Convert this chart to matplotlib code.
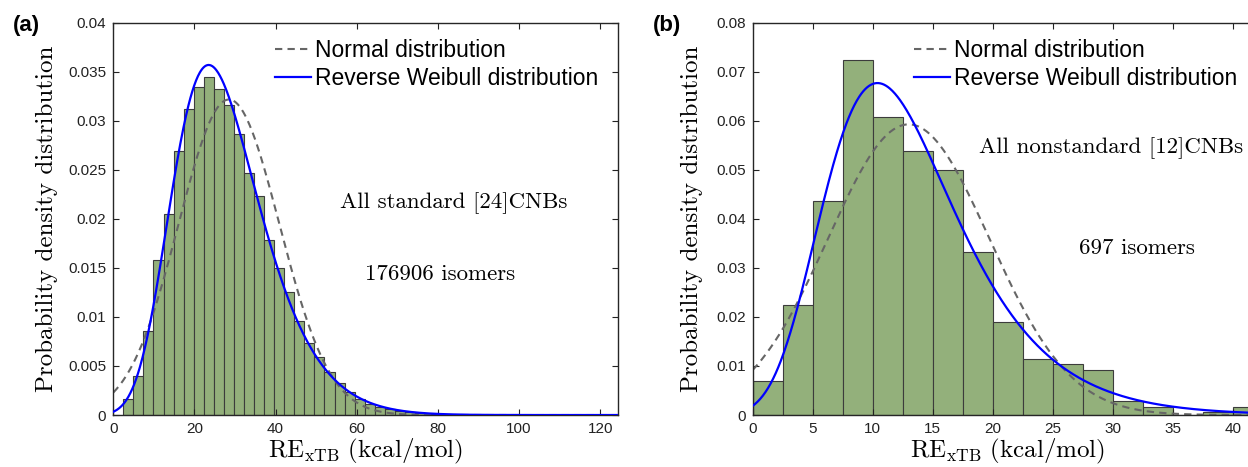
import numpy as np
import matplotlib
matplotlib.use('Agg')
import matplotlib.pyplot as plt
from matplotlib.ticker import FixedLocator, FuncFormatter

plt.rcParams['font.family'] = ['Liberation Sans', 'DejaVu Sans']
plt.rcParams['mathtext.fontset'] = 'cm'

# panel (a): all standard [24]CNBs
a_bin_start = 2.45
a_bin_width = 2.48
a_density = [0.0016, 0.0040, 0.0086, 0.0158, 0.0205, 0.0269, 0.0312, 0.0334,
             0.0345, 0.0332, 0.0316, 0.0287, 0.0247, 0.0223, 0.0178, 0.0150,
             0.0125, 0.0096, 0.0073, 0.0059, 0.0044, 0.0033, 0.0023, 0.0016,
             0.0011, 0.0008, 0.0006, 0.0004, 0.0003, 0.0002, 0.00012, 0.00008,
             0.00005, 0.00003, 0.00002]
a_normal = (28.5, 12.4)            # mean, sd
a_weibull = (-0.08, 10.34, 22.64)  # shape k, scale, location
a_xticks = [0, 20, 40, 60, 80, 100, 120]
a_yticks = [0, 0.005, 0.01, 0.015, 0.02, 0.025, 0.03, 0.035, 0.04]

# panel (b): all nonstandard [12]CNBs
b_bin_start = 0.0
b_bin_width = 2.5
b_counts = [12, 39, 76, 126, 106, 94, 87, 58, 33, 20, 18, 16, 5, 3, 0, 1, 3]
b_total = 697
b_normal = (13.0, 6.73)
b_weibull = (-0.02, 5.435, 10.29)
b_xticks = [0, 5, 10, 15, 20, 25, 30, 35, 40]
b_yticks = [0, 0.01, 0.02, 0.03, 0.04, 0.05, 0.06, 0.07, 0.08]


def normal_pdf(x, mu, sd):
    return np.exp(-0.5 * ((x - mu) / sd) ** 2) / (sd * np.sqrt(2 * np.pi))


def gev_pdf(x, k, sc, loc):
    z = (x - loc) / sc
    s = np.clip(1 + k * z, 1e-12, None)
    t = s ** (-1.0 / k)
    return t ** (k + 1) * np.exp(-t) / sc


bar_face = '#93b07b'
bar_edge = '#3c3c3c'
fmt = FuncFormatter(lambda v, p: '%g' % v)


def panel(ax, edges, dens, normal, weib, xmax, ymax, xticks, yticks):
    ax.bar(edges, dens, width=edges[1] - edges[0], align='edge',
           color=bar_face, edgecolor=bar_edge, linewidth=0.8, zorder=1)
    xs = np.linspace(0, xmax, 800)
    ax.plot(xs, normal_pdf(xs, *normal), color='#666666', lw=1.5,
            dashes=(3.5, 2.5), label='Normal distribution', zorder=2)
    ax.plot(xs, gev_pdf(xs, *weib), color='#0000ff', lw=1.6,
            label='Reverse Weibull distribution', zorder=3)
    ax.set_xlim(0, xmax)
    ax.set_ylim(0, ymax)
    ax.xaxis.set_major_locator(FixedLocator(xticks))
    ax.yaxis.set_major_locator(FixedLocator(yticks))
    ax.xaxis.set_major_formatter(fmt)
    ax.yaxis.set_major_formatter(fmt)
    ax.tick_params(direction='in', length=4, width=0.8, top=True, right=True,
                   labelsize=11, colors='#222222', pad=5)
    for sp in ax.spines.values():
        sp.set_linewidth(1.0)
        sp.set_color('#262626')
    ax.set_xlabel(r'$\mathrm{RE}_{\mathrm{xTB}}\ \mathrm{(kcal/mol)}$', fontsize=18)
    ax.set_ylabel('Probability density distribution', family='cmr10', fontsize=18)
    ax.xaxis.label.set_va('center')
    ax.yaxis.label.set_va('center')
    ax.legend(loc='upper left', frameon=False, borderpad=0, borderaxespad=0,
              handlelength=1.55, handletextpad=0.2, labelspacing=0.2,
              fontsize=16.5)


fig = plt.figure(figsize=(12.48, 4.67), dpi=100)

ax1 = fig.add_axes([0.0908, 0.1113, 0.4044, 0.840])
a_edges = a_bin_start + a_bin_width * np.arange(len(a_density))
panel(ax1, a_edges, a_density, a_normal, a_weibull, 124.4, 0.04, a_xticks, a_yticks)
ax1.xaxis.set_label_coords(0.5, -0.094)
ax1.yaxis.set_label_coords(-0.131, 0.5)
ax1.get_legend().set_bbox_to_anchor((0.3204, 0.958), transform=ax1.transAxes)
ax1.text(84, 0.0216, 'All standard [24]CNBs', family='cmr10', fontsize=16.5,
         ha='center', va='center')
ax1.text(80.6, 0.0144, '176906 isomers', family='cmr10', fontsize=16.5,
         ha='center', va='center')

ax2 = fig.add_axes([0.6031, 0.1113, 0.4087, 0.840])
b_edges = b_bin_start + b_bin_width * np.arange(len(b_counts))
b_density = np.array(b_counts) / (b_total * b_bin_width)
panel(ax2, b_edges, b_density, b_normal, b_weibull, 42.5, 0.08, b_xticks, b_yticks)
ax2.xaxis.set_label_coords(0.5, -0.094)
ax2.yaxis.set_label_coords(-0.119, 0.5)
ax2.get_legend().set_bbox_to_anchor((0.3163, 0.958), transform=ax2.transAxes)
ax2.text(29.9, 0.0545, 'All nonstandard [12]CNBs', family='cmr10', fontsize=16.5,
         ha='center', va='center')
ax2.text(32.0, 0.0341, '697 isomers', family='cmr10', fontsize=16.5,
         ha='center', va='center')

fig.text(0.0105, 0.946, '(a)', fontsize=16, fontweight='bold', va='center')
fig.text(0.523, 0.946, '(b)', fontsize=16, fontweight='bold', va='center')

fig.savefig('out.png', dpi=100)
